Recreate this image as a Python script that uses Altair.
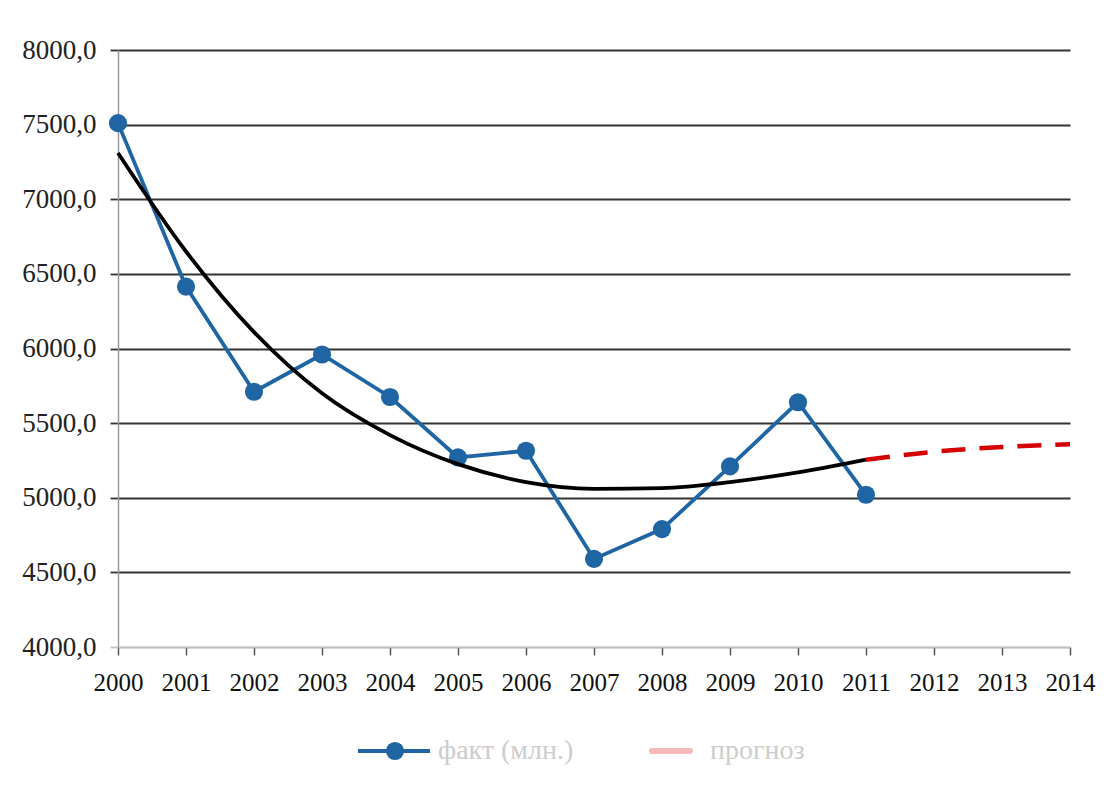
import altair as alt
import pandas as pd

years = list(range(2000, 2012))
fact = [7510, 6415, 5710, 5960, 5675, 5270, 5315, 4590, 4790, 5210, 5640, 5020]
trend = [7310, 6650, 6110, 5700, 5420, 5225, 5105, 5060, 5065, 5105, 5170, 5255]
fc_years = [2011, 2012, 2013, 2014]
forecast = [5255, 5308, 5340, 5358]
legend_labels = ["факт (млн.)", "прогноз"]
x_ticks = list(range(2000, 2015))
y_ticks = [4000, 4500, 5000, 5500, 6000, 6500, 7000, 7500, 8000]

df_fact = pd.DataFrame({"year": years, "value": fact})
df_trend = pd.DataFrame({"year": years, "value": trend})
df_fc = pd.DataFrame({"year": fc_years, "value": forecast})

FONT = "Liberation Serif"
W, H = 952, 597

xs = alt.X("year:Q", scale=alt.Scale(domain=[2000, 2014], nice=False, zero=False),
           axis=alt.Axis(values=x_ticks, format="d", title=None, grid=False,
                         domainColor="#c0c0c0", domainWidth=1.5,
                         tickColor="#555555", tickSize=8, tickWidth=1.5,
                         labelFont=FONT, labelFontSize=25, labelColor="#111111",
                         labelPadding=15, labelFlush=False, labelOverlap=False))
ys = alt.Y("value:Q", scale=alt.Scale(domain=[4000, 8000], nice=False, zero=False),
           axis=alt.Axis(values=y_ticks, title=None, grid=True,
                         labelExpr="replace(format(datum.value, '.1f'), '.', ',')",
                         gridColor={"condition": {"test": "datum.value == 4000", "value": "#c0c0c0"}, "value": "#333333"},
                         gridWidth=1.8,
                         domainColor="#9a9a9a", domainWidth=1.5,
                         tickColor={"condition": {"test": "datum.value == 4000", "value": "#c0c0c0"}, "value": "#333333"},
                         tickSize=8, tickWidth=1.8,
                         labelFont=FONT, labelFontSize=27, labelColor="#222222",
                         labelPadding=14))

fact_line = alt.Chart(df_fact).mark_line(color="#1f64a3", strokeWidth=3.8).encode(x=xs, y=ys)
fact_pts = alt.Chart(df_fact).mark_point(filled=True, color="#1f64a3", size=330, opacity=1).encode(x="year:Q", y="value:Q")
trend_line = alt.Chart(df_trend).mark_line(color="#000000", strokeWidth=3.8, interpolate="monotone").encode(x="year:Q", y="value:Q")
fc_line = alt.Chart(df_fc).mark_line(color="#d40000", strokeWidth=4.5, strokeDash=[24, 14],
                                     interpolate="monotone").encode(x="year:Q", y="value:Q")

one = alt.Data(values=[{"a": 1}])
LY = 701
leg_fact_rule = alt.Chart(one).mark_rule(color="#1f64a3", strokeWidth=4).encode(
    x=alt.value(240), x2=alt.value(312), y=alt.value(LY))
leg_fact_pt = alt.Chart(one).mark_point(filled=True, color="#1f64a3", size=330, opacity=1).encode(
    x=alt.value(277), y=alt.value(LY))
leg_fact_txt = alt.Chart(one).mark_text(text=legend_labels[0], align="left", baseline="middle",
                                        font=FONT, fontSize=28, color="#cdcdcd").encode(
    x=alt.value(320), y=alt.value(LY))
leg_fc_rule = alt.Chart(one).mark_rule(color="#f6b8b8", strokeWidth=6, strokeCap="round").encode(
    x=alt.value(534), x2=alt.value(572), y=alt.value(LY))
leg_fc_txt = alt.Chart(one).mark_text(text=legend_labels[1], align="left", baseline="middle",
                                      font=FONT, fontSize=28, color="#cdcdcd").encode(
    x=alt.value(592), y=alt.value(LY))

chart = alt.layer(
    fact_line, fact_pts, trend_line, fc_line,
    leg_fact_rule, leg_fact_pt, leg_fact_txt, leg_fc_rule, leg_fc_txt
).properties(
    width=W, height=H,
    autosize=alt.AutoSizeParams(type="none"),
    padding={"left": 110, "top": 42, "right": 35, "bottom": 120},
    background="white"
).configure_view(stroke=None)

chart.save("out.html", embed_options={"renderer": "svg", "actions": False})
